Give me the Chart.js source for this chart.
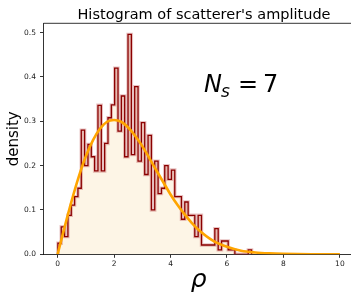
<!DOCTYPE html>
<html>
<head>
<meta charset="utf-8">
<script src="https://cdn.jsdelivr.net/npm/chart.js@4.4.0/dist/chart.umd.min.js"></script>
<style>
  html, body { margin: 0; padding: 0; overflow: hidden; background: #fff; }
  canvas { display: block; }
</style>
</head>
<body>
<canvas id="myChart" width="354" height="292"></canvas>
<script>
// histogram of the amplitude (density per bin)
const binStart = 0.01;
const binWidth = 0.1183;
const density = [
  0.025, 0.062, 0.04, 0.088, 0.111, 0.13, 0.149, 0.28, 0.2, 0.248,
  0.22, 0.188, 0.336, 0.188, 0.25, 0.308, 0.337, 0.42, 0.278, 0.357,
  0.22, 0.496, 0.225, 0.378, 0.21, 0.297, 0.18, 0.268, 0.1, 0.21,
  0.137, 0.149, 0.2, 0.169, 0.19, 0.13, 0.13, 0.079, 0.118, 0.088,
  0.088, 0.04, 0.088, 0.021, 0.021, 0.021, 0.021, 0.058, 0.01, 0.03,
  0.03, 0.01, 0.01, 0, 0, 0, 0, 0.01
];

// fitted pdf
const curveX = [0, 0.25, 0.5, 0.75, 1, 1.25, 1.5, 1.75, 2, 2.25, 2.5, 2.75, 3, 3.25,
  3.5, 3.75, 4, 4.25, 4.5, 4.75, 5, 5.5, 6, 6.5, 7, 7.5, 8, 9, 10];
const curveY = [0, 0.062, 0.121, 0.175, 0.221, 0.257, 0.283, 0.299, 0.303, 0.299,
  0.286, 0.267, 0.244, 0.217, 0.189, 0.162, 0.135, 0.111, 0.09, 0.071, 0.055,
  0.031, 0.017, 0.008, 0.004, 0.002, 0.001, 0.0001, 0];

const xTicks = [0, 2, 4, 6, 8, 10];
const yTicks = [0, 0.1, 0.2, 0.3, 0.4, 0.5];

const titleText = "Histogram of scatterer's amplitude";
const font = "DejaVu Sans";

const histPoints = [{ x: binStart, y: 0 }];
density.forEach((d, i) => histPoints.push({ x: binStart + i * binWidth, y: d }));
histPoints.push({ x: binStart + density.length * binWidth, y: 0 });

const curvePoints = curveX.map((x, i) => ({ x: x, y: curveY[i] }));

const textPlugin = {
  id: "texts",
  afterDraw(chart) {
    const { ctx, chartArea } = chart;
    ctx.save();
    // top spine
    ctx.strokeStyle = "#000";
    ctx.lineWidth = 0.8;
    ctx.beginPath();
    ctx.moveTo(chartArea.left, chartArea.top);
    ctx.lineTo(chartArea.right, chartArea.top);
    ctx.stroke();

    ctx.fillStyle = "#000";
    ctx.textBaseline = "alphabetic";
    ctx.textAlign = "center";
    ctx.font = `14.5px "${font}"`;
    ctx.fillText(titleText, 204, 18.5);

    // N_s = 7
    ctx.textAlign = "left";
    ctx.font = `italic 24px "${font}"`;
    ctx.fillText("N", 204, 92.3);
    ctx.font = `italic 17px "${font}"`;
    ctx.fillText("s", 221, 96.5);
    ctx.font = `24px "${font}"`;
    ctx.fillText("=", 238, 92.3);
    ctx.fillText("7", 263, 92.3);
    ctx.restore();
  },
};

const ctx = document.getElementById("myChart").getContext("2d");
const myChart = new Chart(ctx, {
  type: "line",
  data: {
    datasets: [
      {
        label: "pdf",
        data: curvePoints,
        borderColor: "#ffa500",
        borderWidth: 2.6,
        pointRadius: 0,
        cubicInterpolationMode: "monotone",
        fill: false,
        order: 0,
      },
      {
        label: "hist",
        data: histPoints,
        stepped: true,
        borderColor: "#8b0000",
        borderWidth: 1.3,
        pointRadius: 0,
        fill: false,
        order: 1,
      },
      {
        label: "hist halo",
        data: histPoints,
        stepped: true,
        borderColor: "rgba(190, 80, 80, 0.35)",
        borderWidth: 3.4,
        pointRadius: 0,
        backgroundColor: "#fdf5e6",
        fill: "origin",
        order: 2,
      },
    ],
  },
  options: {
    responsive: false,
    animation: false,
    events: [],
    layout: { padding: { top: 23.3, left: 0, right: 0, bottom: 0 } },
    plugins: {
      legend: { display: false },
      tooltip: { enabled: false },
      title: { display: false },
    },
    scales: {
      x: {
        type: "linear",
        min: -0.5,
        max: 10.5,
        afterBuildTicks: (scale) => {
          scale.ticks = xTicks.map((v) => ({ value: v }));
        },
        afterFit: (scale) => {
          scale.height = 37.7;
        },
        grid: { drawOnChartArea: false, drawTicks: true, tickLength: 3.5, color: "#000", lineWidth: 0.8 },
        border: { color: "#000", width: 0.8 },
        ticks: {
          color: "#222",
          padding: 2,
          font: { family: font, size: 7.5 },
          callback: (v) => String(v),
        },
        title: {
          display: true,
          text: "ρ",
          color: "#000",
          font: { family: font, size: 25, style: "italic", lineHeight: 1 },
          padding: { top: 0, bottom: -1 },
        },
      },
      y: {
        min: 0,
        max: 0.521,
        afterBuildTicks: (scale) => {
          scale.ticks = yTicks.map((v) => ({ value: v }));
        },
        afterFit: (scale) => {
          scale.width = 43.5;
        },
        grid: { drawOnChartArea: false, drawTicks: true, tickLength: 3.5, color: "#000", lineWidth: 0.8 },
        border: { color: "#000", width: 0.8 },
        ticks: {
          color: "#222",
          padding: 4,
          font: { family: font, size: 7.5 },
          callback: (v) => v.toFixed(1),
        },
        title: {
          display: true,
          text: "density",
          color: "#000",
          font: { family: font, size: 15, lineHeight: 1.2 },
          padding: { top: 5, bottom: 0 },
        },
      },
    },
  },
  plugins: [textPlugin],
});
</script>
</body>
</html>
